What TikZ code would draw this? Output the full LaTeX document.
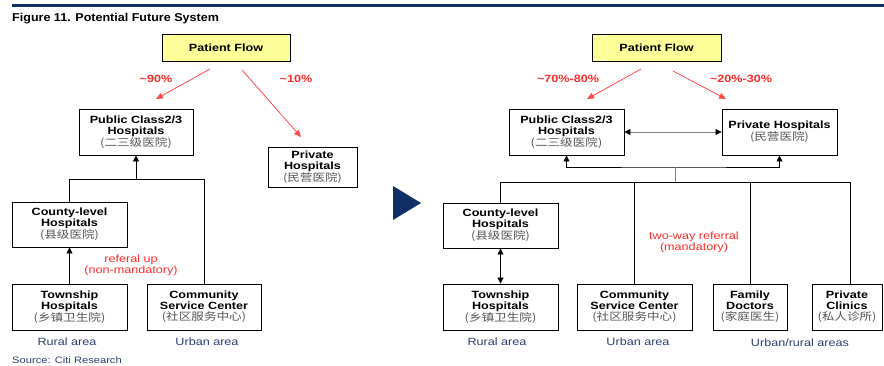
\documentclass[tikz,border=0pt]{standalone}
\usepackage{fontspec}
\setmainfont{Liberation Sans}[FakeStretch=1.2]
\newfontfamily\titlefont{Liberation Sans}[FakeStretch=1.1]
\newfontfamily\cjk{Noto Sans CJK SC}[FakeStretch=1.2]
\usetikzlibrary{arrows.meta}
\definecolor{navy}{HTML}{0F2F66}
\definecolor{flowyellow}{HTML}{FFFF99}
\definecolor{lblred}{HTML}{FF2A2A}
\definecolor{arrred}{HTML}{FF4A4A}
\definecolor{areablue}{HTML}{2A3F6F}
\definecolor{cjkgray}{HTML}{555555}
\begin{document}
\begin{tikzpicture}[x=1pt,y=-1pt,
  box/.style={draw=black,line width=0.9pt,fill=white,align=center,inner sep=0pt,
    font=\fontsize{10.5}{10.9}\selectfont\bfseries},
  flowbox/.style={box,fill=flowyellow,minimum width=128pt,minimum height=27pt},
  redlbl/.style={text=lblred,font=\fontsize{10.5}{11}\selectfont\bfseries},
  notelbl/.style={text=lblred,align=center,font=\fontsize{10.5}{11}\selectfont},
  arealbl/.style={text=areablue,font=\fontsize{10.5}{11}\selectfont},
  redarrow/.style={draw=arrred,line width=0.8pt,-{Triangle[length=7pt,width=6pt]}},
  link/.style={draw=black,line width=0.8pt},
  uparrow/.style={link,-{Triangle[length=6pt,width=6pt]}},
  twoarrow/.style={link,{Triangle[length=6pt,width=6pt,color=black]}-{Triangle[length=6pt,width=6pt,color=black]}},
]
\useasboundingbox (0,0) rectangle (884,365);
% header
\fill[navy] (12,4) rectangle (884,7.3);
\node[anchor=west,inner sep=0pt,font=\titlefont\fontsize{11.4}{12}\selectfont\bfseries] (title) at (12,19) {Figure 11. Potential Future System};
\node[anchor=west,inner sep=0pt,text=areablue,font=\fontsize{9.3}{10}\selectfont] (source) at (12,360) {Source: Citi Research};

% ---------- left diagram ----------
\node[flowbox] (pf1) at (226,47.5) {Patient Flow};
\node[box,minimum width=114pt,minimum height=46pt] (pub1) at (136,132) {Public Class2/3\\Hospitals\\{\cjk\mdseries\color{cjkgray}(二三级医院)}};
\node[box,minimum width=89pt,minimum height=40pt] (priv1) at (312.5,167) {Private\\Hospitals\\{\cjk\mdseries\color{cjkgray}(民营医院)}};
\node[box,minimum width=115pt,minimum height=45pt] (cty1) at (69.5,224.5) {County-level\\Hospitals\\{\cjk\mdseries\color{cjkgray}(县级医院)}};
\node[box,minimum width=115pt,minimum height=46pt] (town1) at (69.5,307) {Township\\Hospitals\\{\cjk\mdseries\color{cjkgray}(乡镇卫生院)}};
\node[box,minimum width=114pt,minimum height=46pt] (comm1) at (204,307) {Community\\Service Center\\{\cjk\mdseries\color{cjkgray}(社区服务中心)}};

\coordinate (a1s) at (210,69);
\coordinate (a1e) at (156,99);
\coordinate (a2s) at (242,70);
\coordinate (a2e) at (301,137);
\draw[redarrow] (a1s) -- (a1e);
\draw[redarrow] (a2s) -- (a2e);
\node[redlbl] (l90) at (156,79) {\textasciitilde90\%};
\node[redlbl] (l10) at (296,79) {\textasciitilde10\%};

\coordinate (j1) at (136,179);
\draw[uparrow] (town1.north) -- (cty1.south);
\draw[link] (cty1.north) |- (comm1.north |- j1) -- (comm1.north);
\draw[uparrow] (j1) -- (pub1.south);
\node[notelbl] (ref1) at (131,265.5) {referal up\\(non-mandatory)};
\node[arealbl] (rural1) at (67,342) {Rural area};
\node[arealbl] (urban1) at (207,342) {Urban area};

% transition triangle
\fill[navy] (393,186) -- (421,203) -- (393,220) -- cycle;

% ---------- right diagram ----------
\node[flowbox,minimum width=129pt] (pf2) at (656.5,47.5) {Patient Flow};
\node[box,minimum width=115pt,minimum height=46pt] (pub2) at (566.5,132) {Public Class2/3\\Hospitals\\{\cjk\mdseries\color{cjkgray}(二三级医院)}};
\node[box,minimum width=115pt,minimum height=46pt] (priv2) at (779.5,132) {Private Hospitals\\{\cjk\mdseries\color{cjkgray}(民营医院)}};
\node[box,minimum width=115pt,minimum height=45pt] (cty2) at (500.5,225.5) {County-level\\Hospitals\\{\cjk\mdseries\color{cjkgray}(县级医院)}};
\node[box,minimum width=115pt,minimum height=46pt] (town2) at (500.5,307) {Township\\Hospitals\\{\cjk\mdseries\color{cjkgray}(乡镇卫生院)}};
\node[box,minimum width=115pt,minimum height=46pt] (comm2) at (634.5,307) {Community\\Service Center\\{\cjk\mdseries\color{cjkgray}(社区服务中心)}};
\node[box,minimum width=74pt,minimum height=46pt] (fam) at (750,307) {Family\\Doctors\\{\cjk\mdseries\color{cjkgray}(家庭医生)}};
\node[box,minimum width=70pt,minimum height=46pt] (clin) at (847,307) {Private\\Clinics\\{\cjk\mdseries\color{cjkgray}(私人诊所)}};

\coordinate (b1s) at (641,69);
\coordinate (b1e) at (587,99);
\coordinate (b2s) at (673,71);
\coordinate (b2e) at (726,99);
\draw[redarrow] (b1s) -- (b1e);
\draw[redarrow] (b2s) -- (b2e);
\node[redlbl] (l7080) at (568,79) {\textasciitilde70\%-80\%};
\node[redlbl] (l2030) at (741,79) {\textasciitilde20\%-30\%};

\draw[twoarrow,draw=gray] (pub2.east) -- (priv2.west);

\coordinate (j2) at (675,167);
\coordinate (j3) at (675,182);
\coordinate (clintop) at (850,284);
\draw[twoarrow] (pub2.south) |- (j2) -| (priv2.south);
\draw[link,draw=gray,line width=1pt] (j2) -- (j3);
\draw[link] (cty2.north) |- (clintop |- j3) -- (clintop);
\draw[link] (comm2.north) -- (comm2.north |- j3);
\draw[link] (fam.north) -- (fam.north |- j3);
\draw[twoarrow] (cty2.south) -- (town2.north);

\node[notelbl] (ref2) at (694,242.5) {two-way referral\\(mandatory)};
\node[arealbl] (rural2) at (497,342) {Rural area};
\node[arealbl] (urban2) at (638,342) {Urban area};
\node[arealbl] (ur) at (800,343) {Urban/rural areas};
\end{tikzpicture}
\end{document}
